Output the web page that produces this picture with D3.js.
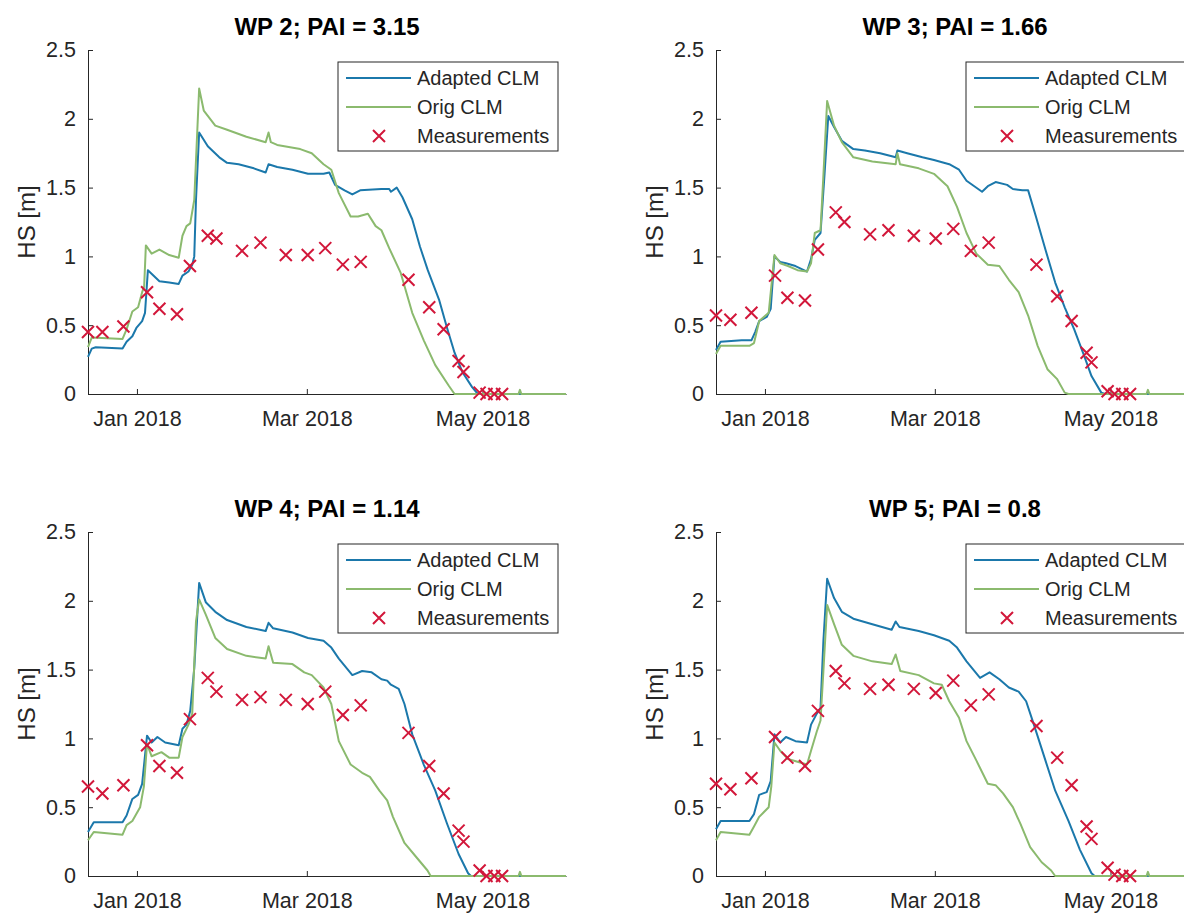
<!DOCTYPE html>
<html>
<head>
<meta charset="utf-8">
<script src="https://cdn.jsdelivr.net/npm/d3@7"></script>
<style>
  body { margin: 0; background: #fff; }
  text { font-family: "Liberation Sans", Arial, Helvetica, sans-serif; }
</style>
</head>
<body>
<svg id="chart" width="1184" height="914"></svg>
<script>
// start of the simulation period, all series below are given as [day since start, HS in m]
const seasonStart = new Date(2017, 11, 15);
const seasonDays = 166;

const yTicks = [0, 0.5, 1, 1.5, 2, 2.5];
const xTicks = [new Date(2018, 0, 1), new Date(2018, 2, 1), new Date(2018, 4, 1)];
const seriesNames = ["Adapted CLM", "Orig CLM", "Measurements"];
const panelTitles = ["WP 2; PAI = 3.15", "WP 3; PAI = 1.66", "WP 4; PAI = 1.14", "WP 5; PAI = 0.8"];

// measurement days (shared by all sites)
const measDays = [0, 5, 12.3, 20.5, 24.8, 30.9, 35.4, 41.6, 44.6, 53.5, 59.9, 68.7, 76.3, 82.4, 88.5, 94.7,
  111.3, 118.5, 123.5, 128.7, 130.4, 136, 138.4, 141.1, 143.8];

const wp2Meas = [0.45, 0.45, 0.49, 0.74, 0.62, 0.58, 0.93, 1.15, 1.13, 1.04, 1.10, 1.01, 1.01, 1.06, 0.94, 0.96,
  0.83, 0.63, 0.47, 0.24, 0.16, 0.01, 0, 0, 0];
const wp3Meas = [0.57, 0.54, 0.59, 0.86, 0.70, 0.68, 1.05, 1.32, 1.25, 1.16, 1.19, 1.15, 1.13, 1.20, 1.04, 1.10,
  0.94, 0.71, 0.53, 0.30, 0.23, 0.02, 0, 0, 0];
const wp4Meas = [0.65, 0.60, 0.66, 0.95, 0.80, 0.75, 1.14, 1.44, 1.34, 1.28, 1.30, 1.28, 1.25, 1.34, 1.17, 1.24,
  1.04, 0.80, 0.60, 0.33, 0.25, 0.04, 0, 0, 0];
const wp5Meas = [0.67, 0.63, 0.71, 1.01, 0.86, 0.80, 1.20, 1.49, 1.40, 1.36, 1.39, 1.36, 1.33, 1.42, 1.24, 1.32,
  1.09, 0.86, 0.66, 0.36, 0.27, 0.06, 0.01, 0, 0];

const wp2Adapted = [[0,0.27],[1.3,0.33],[2.7,0.34],[12,0.33],[13.4,0.38],[15.4,0.42],[16.8,0.48],[18.8,0.53],[19.8,0.59],
  [20.8,0.90],[22.8,0.86],[24.8,0.82],[28.2,0.81],[31.5,0.80],[32.8,0.86],[34.9,0.89],[36.2,0.94],[36.9,1.00],[37.5,1.41],
  [38.6,1.90],[41.6,1.80],[45.6,1.72],[48.3,1.68],[52.3,1.67],[57.6,1.64],[61.7,1.61],[62.7,1.67],[65.7,1.65],[71,1.63],
  [76.4,1.60],[81.8,1.60],[83.8,1.61],[85.8,1.52],[89.1,1.48],[91.8,1.45],[94.5,1.48],[101.9,1.49],[104.6,1.49],[105.2,1.47],
  [107.2,1.50],[109.2,1.43],[112.6,1.27],[115.3,1.07],[118,0.90],[122,0.68],[124.7,0.48],[127.3,0.30],[130,0.16],
  [133.4,0.05],[135.4,0],[166,0]];
const wp2Orig = [[0,0.34],[1.3,0.41],[12,0.40],[13.4,0.47],[15.4,0.60],[17.4,0.63],[18.8,0.74],[19.5,0.78],[20.1,1.08],
  [22.1,1.02],[24.8,1.05],[28.2,1.01],[31.5,0.99],[32.8,1.15],[34.2,1.22],[35.5,1.24],[36.9,1.41],[38.6,2.22],[40.2,2.06],
  [44.2,1.95],[48.3,1.92],[55,1.87],[61.7,1.83],[62.7,1.90],[63.5,1.83],[65.7,1.81],[73.7,1.78],[77.7,1.75],[81.8,1.67],
  [84.5,1.63],[87.1,1.46],[91.2,1.29],[93.8,1.29],[97.2,1.31],[99.9,1.22],[101.9,1.19],[104.6,1.06],[108.6,0.88],
  [112.6,0.59],[116.6,0.39],[120.6,0.21],[125.3,0.06],[127.3,0],[149.5,0],[150,0.03],[150.5,0],[166,0]];

const wp3Adapted = [[0,0.32],[1.6,0.38],[8.9,0.39],[12.3,0.39],[13.6,0.45],[15,0.53],[17.6,0.56],[19,0.62],[20.3,1.0],
  [22.3,0.96],[24.3,0.95],[27.6,0.93],[31.6,0.89],[33,0.98],[34.3,1.12],[36.3,1.17],[37.7,1.60],[39,2.02],[41,1.94],
  [43.7,1.84],[47.7,1.78],[51.7,1.77],[57,1.75],[62.4,1.72],[63,1.77],[66.4,1.75],[71.7,1.72],[75.7,1.70],[81,1.67],
  [84.4,1.63],[87,1.55],[89.7,1.51],[92.4,1.47],[94.4,1.51],[97.1,1.54],[101.1,1.52],[103.1,1.49],[106.4,1.48],[108.4,1.48],
  [111.1,1.29],[114.4,1.05],[117.8,0.81],[121.1,0.63],[124.4,0.47],[127.8,0.28],[130.4,0.13],[133.8,0.01],[135.1,0],[166,0]];
const wp3Orig = [[0,0.29],[1.6,0.35],[11.6,0.35],[13.2,0.37],[15,0.53],[18.3,0.59],[20.3,1.01],[22.3,0.95],[25,0.93],
  [28.3,0.90],[31.6,0.89],[33,0.95],[34.3,1.17],[36.3,1.19],[37.2,1.55],[38.6,2.13],[41,1.95],[43.7,1.83],[47.7,1.72],
  [54.3,1.69],[62.4,1.67],[63,1.75],[63.9,1.67],[70.4,1.64],[75.7,1.60],[80.4,1.51],[83.7,1.36],[87,1.17],[90.4,1.02],
  [94.4,0.94],[98.4,0.93],[101.7,0.83],[105.1,0.74],[108.4,0.57],[111.7,0.35],[115.1,0.18],[118.4,0.11],[121.1,0.01],
  [122.4,0],[149.5,0],[150,0.03],[150.5,0],[166,0]];

const wp4Adapted = [[0,0.32],[2,0.39],[12,0.39],[13.4,0.44],[15.4,0.56],[17.4,0.59],[18.8,0.67],[20.5,1.02],[22.1,0.97],
  [24.1,1.01],[26.8,0.97],[31.5,0.95],[32.8,1.07],[34.2,1.10],[35.5,1.20],[36.9,1.51],[38.6,2.13],[40.9,1.99],[44.2,1.92],
  [48.3,1.86],[55,1.81],[61.7,1.78],[62.7,1.84],[64.3,1.80],[71,1.77],[76.4,1.73],[81.8,1.71],[84.5,1.66],[87.1,1.58],
  [91.8,1.46],[95.2,1.49],[98.5,1.48],[101.9,1.43],[103.9,1.42],[105.2,1.39],[107.9,1.36],[109.9,1.25],[112.6,1.03],
  [116.6,0.81],[120.6,0.62],[124.7,0.38],[128.7,0.16],[132,0.02],[133,0],[166,0]];
const wp4Orig = [[0,0.26],[2,0.32],[12,0.30],[13.4,0.37],[15.4,0.40],[18.1,0.50],[19.4,0.65],[20.5,0.96],[22.1,0.87],
  [25.5,0.90],[28.2,0.86],[31.5,0.86],[32.8,1.01],[34.9,1.10],[36.2,1.18],[37.5,1.85],[38.6,2.01],[40.9,1.90],[44.2,1.73],
  [48.3,1.65],[55,1.60],[61.7,1.58],[62.7,1.67],[64.3,1.55],[71,1.54],[75.1,1.48],[77.7,1.46],[81.8,1.37],[84.5,1.25],
  [87.1,0.98],[91.2,0.81],[95.2,0.75],[97.9,0.72],[101.2,0.62],[103.9,0.55],[105.9,0.43],[109.9,0.24],[113.9,0.14],
  [117.9,0.04],[119,0],[149.5,0],[150,0.03],[150.5,0],[166,0]];

const wp5Adapted = [[0,0.34],[1.6,0.40],[11.6,0.40],[13.2,0.45],[15,0.59],[17.6,0.61],[19,0.69],[20.3,1.03],[22.3,0.97],
  [24.3,1.01],[27.6,0.98],[31.6,0.97],[33,1.10],[35,1.18],[36.3,1.22],[37.3,1.71],[38.6,2.16],[41,2.02],[43.7,1.92],
  [47.7,1.87],[54.3,1.83],[61,1.79],[62.4,1.85],[63.7,1.81],[70.4,1.78],[75.7,1.75],[81,1.71],[83.7,1.66],[87,1.56],
  [91.7,1.44],[95,1.48],[98.4,1.43],[101.7,1.37],[105.1,1.34],[107.7,1.27],[110.4,1.10],[114.4,0.84],[117.8,0.62],
  [122.4,0.40],[126.4,0.19],[130.4,0.02],[131.5,0],[166,0]];
const wp5Orig = [[0,0.26],[1.6,0.32],[11.6,0.30],[13.2,0.36],[15,0.43],[18.3,0.50],[19.2,0.65],[20.3,0.97],[22.3,0.91],
  [25,0.85],[28.3,0.83],[31.6,0.81],[33,0.91],[35,1.05],[36.3,1.13],[37.3,1.49],[38.6,1.97],[41,1.83],[43.7,1.68],
  [47.7,1.60],[54.3,1.56],[61,1.54],[62.4,1.61],[64,1.49],[70.4,1.46],[75.7,1.40],[78.4,1.39],[81,1.27],[84.4,1.15],
  [87,0.98],[90.4,0.84],[94.4,0.67],[97.1,0.66],[99.7,0.60],[103.1,0.50],[105.7,0.38],[109.1,0.21],[113.1,0.10],
  [116.4,0.04],[117.8,0],[149.5,0],[150,0.03],[150.5,0],[166,0]];

const panels = [
  { title: panelTitles[0], adapted: wp2Adapted, orig: wp2Orig, meas: wp2Meas },
  { title: panelTitles[1], adapted: wp3Adapted, orig: wp3Orig, meas: wp3Meas },
  { title: panelTitles[2], adapted: wp4Adapted, orig: wp4Orig, meas: wp4Meas },
  { title: panelTitles[3], adapted: wp5Adapted, orig: wp5Orig, meas: wp5Meas }
];

// layout (2x2 subplots)
const colLeft = [88, 716];
const rowTop = [50, 532];
const plotW = 478, plotH = 344;
const axisColor = "#262626";
const colAdapted = "#1b78ab";
const colOrig = "#8bba6e";
const colMeas = "#d2173a";
const crossPath = "M-6,-6L6,6M-6,6L6,-6";

const svg = d3.select("#chart");
const toDate = d => new Date(seasonStart.getTime() + d * 864e5);

panels.forEach((p, i) => {
  const g = svg.append("g")
    .attr("transform", `translate(${colLeft[i % 2]},${rowTop[Math.floor(i / 2)]})`);

  const x = d3.scaleTime()
    .domain([seasonStart, d3.timeDay.offset(seasonStart, seasonDays)])
    .range([0, plotW]);
  const y = d3.scaleLinear().domain([0, 2.5]).range([plotH, 0]);

  const line = d3.line()
    .x(d => x(toDate(d[0])))
    .y(d => y(d[1]));

  // axes (MATLAB style: ticks inside, no box)
  const yAxis = g.append("g")
    .call(d3.axisLeft(y).tickValues(yTicks).tickFormat(d3.format("")).tickSizeInner(-5).tickSizeOuter(0).tickPadding(12));
  const xAxis = g.append("g")
    .attr("transform", `translate(0,${plotH})`)
    .call(d3.axisBottom(x).tickValues(xTicks).tickFormat(d3.timeFormat("%b %Y")).tickSizeInner(-5).tickSizeOuter(0).tickPadding(17));
  [xAxis, yAxis].forEach(a => {
    a.selectAll("path, line").attr("stroke", axisColor).attr("stroke-width", 1);
    a.selectAll("text").attr("fill", axisColor).style("font-size", "21.5px");
  });

  g.append("path").datum(p.adapted)
    .attr("fill", "none").attr("stroke", colAdapted).attr("stroke-width", 2)
    .attr("stroke-linejoin", "round").attr("d", line);
  g.append("path").datum(p.orig)
    .attr("fill", "none").attr("stroke", colOrig).attr("stroke-width", 2)
    .attr("stroke-linejoin", "round").attr("d", line);

  g.selectAll(".meas").data(measDays)
    .join("path")
    .attr("class", "meas")
    .attr("transform", (d, j) => `translate(${x(toDate(d))},${y(p.meas[j])})`)
    .attr("d", crossPath)
    .attr("stroke", colMeas).attr("stroke-width", 2).attr("fill", "none");

  // title and y label
  g.append("text")
    .attr("x", plotW / 2).attr("y", -15)
    .attr("text-anchor", "middle")
    .style("font-size", "24px").style("font-weight", "bold")
    .attr("fill", "#000")
    .text(p.title);
  g.append("text")
    .attr("transform", `translate(-61,${plotH / 2}) rotate(-90)`)
    .attr("text-anchor", "middle").attr("dy", "0.35em")
    .style("font-size", "24px").attr("fill", axisColor)
    .text("HS [m]");

  // legend
  const lg = g.append("g").attr("transform", `translate(${plotW - 228},12)`);
  lg.append("rect").attr("width", 220).attr("height", 89)
    .attr("fill", "#fff").attr("stroke", axisColor).attr("stroke-width", 1);
  const rows = [16, 45, 74];
  lg.append("line").attr("x1", 8).attr("x2", 73).attr("y1", rows[0]).attr("y2", rows[0])
    .attr("stroke", colAdapted).attr("stroke-width", 2);
  lg.append("line").attr("x1", 8).attr("x2", 73).attr("y1", rows[1]).attr("y2", rows[1])
    .attr("stroke", colOrig).attr("stroke-width", 2);
  lg.append("path").attr("transform", `translate(41,${rows[2]})`).attr("d", crossPath)
    .attr("stroke", colMeas).attr("stroke-width", 2).attr("fill", "none");
  seriesNames.forEach((n, k) => {
    lg.append("text").attr("x", 79).attr("y", rows[k]).attr("dy", "0.35em")
      .style("font-size", "20px").attr("fill", axisColor).text(n);
  });
});
</script>
</body>
</html>
